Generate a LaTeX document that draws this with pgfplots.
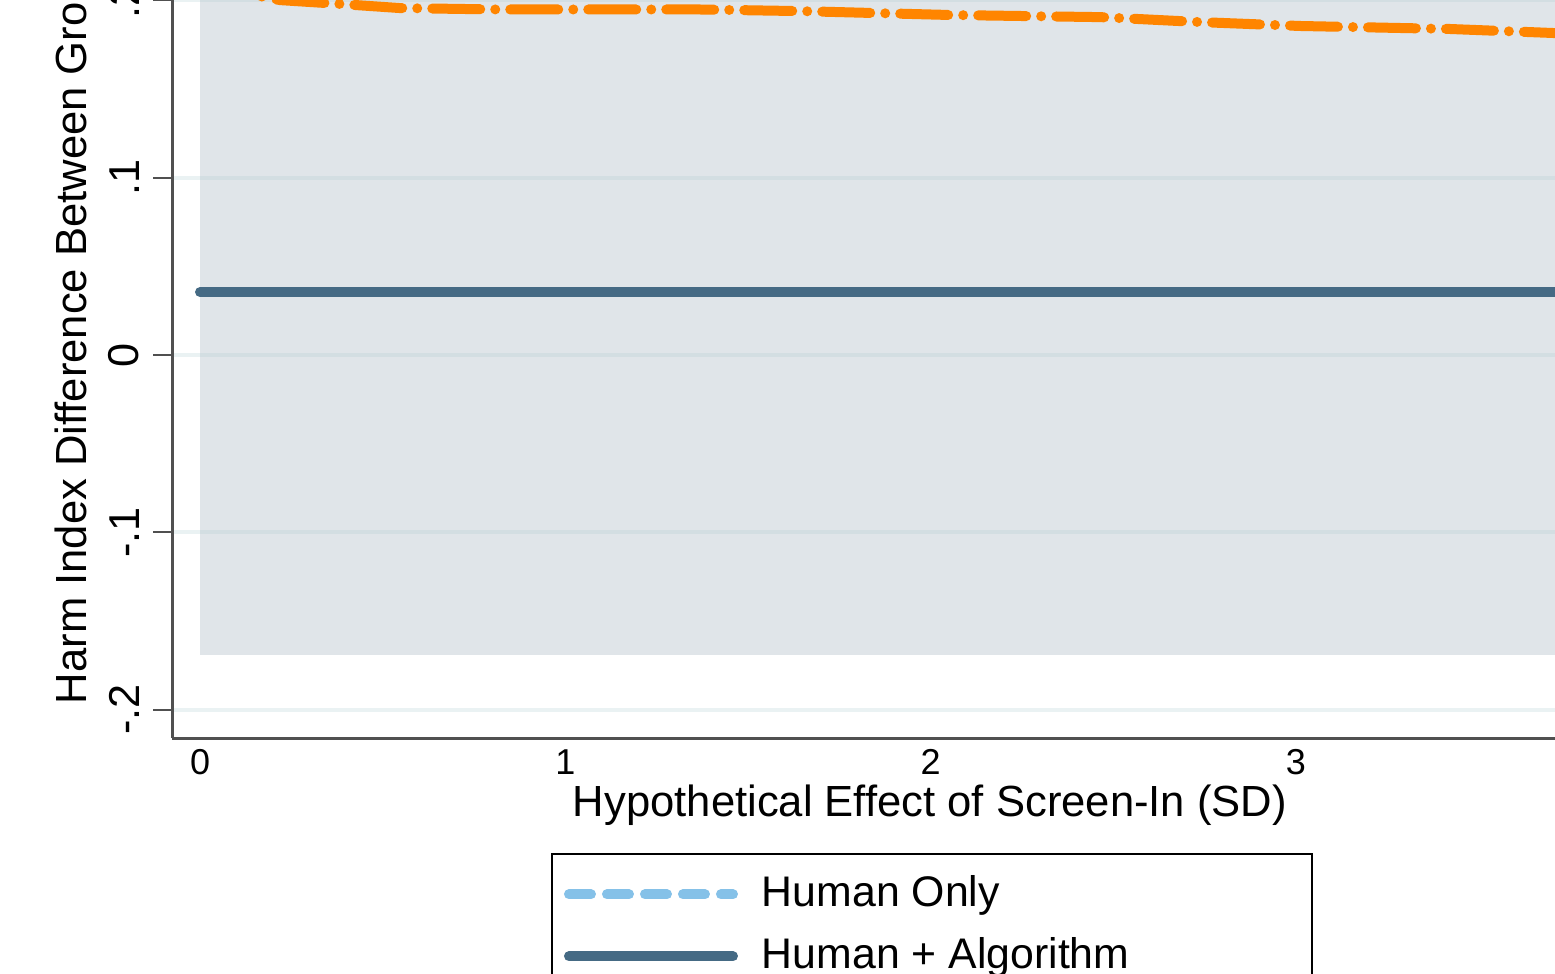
\documentclass[border=0pt]{standalone}
\usepackage{fontspec}
\setmainfont{Liberation Sans}
\usepackage{pgfplots}
\pgfplotsset{compat=1.18}

\definecolor{bandgray}{RGB}{224,229,233}
\definecolor{gridc}{RGB}{174,205,209}
\definecolor{axisgray}{RGB}{80,80,80}
\definecolor{humanblue}{RGB}{133,193,232}
\definecolor{algblue}{RGB}{69,106,132}
\definecolor{algorange}{RGB}{255,133,0}

\begin{document}
\begin{tikzpicture}

\begin{axis}[
    at={(43pt,-184.5pt)}, anchor=south west,
    scale only axis,
    width=354.05pt, height=206.55pt,
    xmin=-0.0767, xmax=3.8,
    ymin=-0.216, ymax=0.25,
    set layers,
    axis x line*=bottom, axis y line*=left,
    axis line style={draw=axisgray, line width=0.75pt},
    tick align=outside,
    major tick length=4.75pt,
    xtick={0,1,2,3}, xticklabels={0,1,2,3},
    ytick={-0.2,-0.1,0,0.1,0.2}, yticklabels={-.2,-.1,0,.1,.2},
    x tick style={draw=none},
    y tick style={draw=axisgray, line width=0.5pt},
    ymajorgrids,
    major grid style={draw=gridc, draw opacity=0.26, line width=1pt},
    tick label style={inner sep=0pt},
    xticklabel style={anchor=north, font=\fontsize{9}{9}\selectfont},
    yticklabel style={rotate=90, anchor=south, font=\fontsize{10.8}{11}\selectfont},
    xticklabel shift=-2pt,
    yticklabel shift=3.25pt,
    xlabel={Hypothetical Effect of Screen-In (SD)},
    ylabel={Harm Index Difference Between Groups},
    every axis x label/.style={at={(axis description cs:0.5352,0)}, anchor=north,
        yshift=-11.5pt, inner sep=0pt, font=\fontsize{10.9}{12}\selectfont},
    every axis y label/.style={at={(axis description cs:-0.0607,0.0399)}, rotate=90,
        anchor=base west, inner sep=0pt, font=\fontsize{10.9}{12}\selectfont},
    legend style={at={(axis description cs:0.2676,-0.139)}, anchor=north west,
        draw=black, line width=0.5pt, fill=white,
        inner xsep=3pt, inner ysep=5.5pt,
        font=\fontsize{10.7}{12}\selectfont,
        nodes={inner sep=0pt},
        row sep=6.25pt,
        /tikz/every odd column/.append style={column sep=6pt}},
    legend cell align=left,
    legend image code/.code={\draw[#1] (0pt,0pt) -- (41pt,0pt);},
]

% shaded region
\addplot[fill=bandgray, draw=none, forget plot, on layer=axis background]
    coordinates {(0,-0.169) (3.8,-0.169) (3.8,0.25) (0,0.25)};

% Human Only lies above the visible part
\addlegendimage{draw=humanblue, line width=2.5pt, line cap=round,
    dash pattern=on 5.5pt off 4pt}
\addlegendentry{\makebox[134.5pt][l]{Human Only}}

\addplot[draw=algblue, line width=2.5pt, line cap=round]
    coordinates {(0,0.0355) (3.8,0.0355)};
\addlegendentry{\makebox[134.5pt][l]{Human + Algorithm}}

\addplot[draw=algorange, line width=2.5pt, line cap=round,
    dash pattern=on 12pt off 3.75pt on 0pt off 3.75pt, forget plot]
    coordinates {
    (0,0.209) (0.1,0.205) (0.219,0.2002) (0.348,0.1985) (0.548,0.1957)
    (0.821,0.1949) (1.1,0.1949) (1.369,0.1949) (1.642,0.1940) (2.053,0.1918)
    (2.464,0.1906) (2.738,0.1878) (3.011,0.1856) (3.422,0.1839) (3.709,0.1816)
    (3.8,0.1810)};

\end{axis}

% the reference only shows part of the figure
\pgfresetboundingbox
\useasboundingbox (0pt,0pt) rectangle (388.75pt,-243.5pt);
\end{tikzpicture}
\end{document}
